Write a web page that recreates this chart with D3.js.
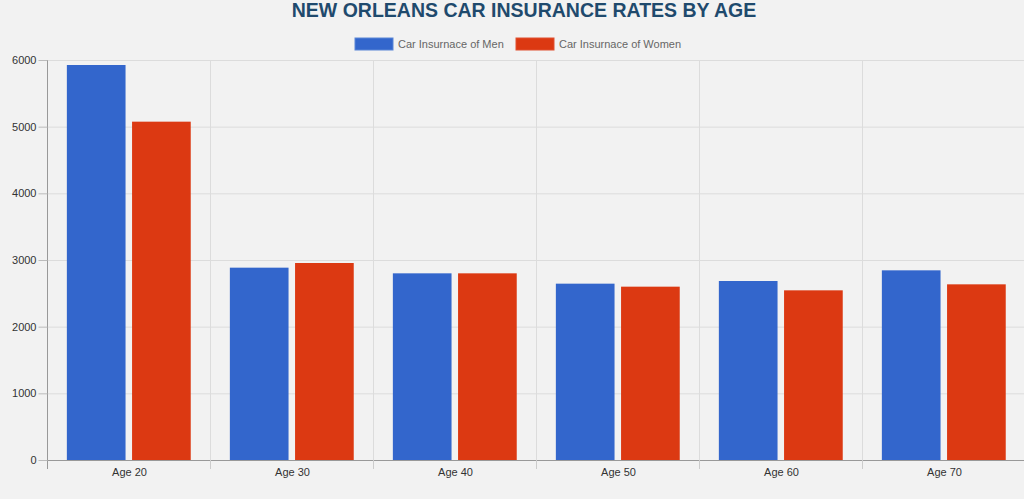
<!DOCTYPE html>
<html><head><meta charset="utf-8">
<script src="https://cdn.jsdelivr.net/npm/d3@7"></script>
<style>html,body{margin:0;padding:0;background:#f2f2f2;}svg{display:block;font-family:Arial,"Liberation Sans",sans-serif;}</style>
</head><body><svg id="c" width="1024" height="499"></svg>
<script>
const categories = ["Age 20","Age 30","Age 40","Age 50","Age 60","Age 70"];
const seriesNames = ["Car Insurnace of Men","Car Insurnace of Women"];
const men = [5925, 2885, 2800, 2645, 2685, 2845];
const women = [5075, 2955, 2800, 2600, 2545, 2635];
const yTicks = [0,1000,2000,3000,4000,5000,6000];
const colors = ["#3366cc","#dc3912"];

const svg = d3.select("#c");
svg.append("rect").attr("width",1024).attr("height",499).attr("fill","#f2f2f2");
const L=48, R=1026, T=60, B=460;
const x = d3.scaleBand().domain(categories).range([L,R]);
const y = d3.scaleLinear().domain([0,6000]).range([B,T]);
const inner = d3.scaleBand().domain([0,1]).range([0, x.bandwidth()*0.8]);

// grid
const g = svg.append("g");
g.selectAll(".hg").data(yTicks).join("line")
 .attr("x1",L).attr("x2",1024).attr("y1",d=>y(d)+0.5).attr("y2",d=>y(d)+0.5)
 .attr("stroke","#dcdcdc").attr("stroke-width",1);
const vlines = categories.map(c=>x(c)).concat([R]);
g.selectAll(".vg").data(vlines.slice(1)).join("line")
 .attr("x1",d=>Math.round(d)-0.5).attr("x2",d=>Math.round(d)-0.5).attr("y1",T).attr("y2",B)
 .attr("stroke","#dcdcdc");

// bars
const data = categories.map((c,i)=>({c, vals:[men[i],women[i]]}));
const cg = svg.append("g").selectAll("g").data(data).join("g")
 .attr("transform",d=>`translate(${x(d.c)+x.bandwidth()*0.1-0.7},0)`);
cg.selectAll("rect").data(d=>d.vals.map((v,k)=>({v,k}))).join("rect")
 .attr("x",d=>inner(d.k)+inner.bandwidth()*0.05)
 .attr("width",inner.bandwidth()*0.9)
 .attr("y",d=>y(d.v)).attr("height",d=>B-y(d.v))
 .attr("fill",d=>colors[d.k]);

// axes
const yAxis = svg.append("g").attr("transform",`translate(${L-0.5},0)`)
 .call(d3.axisLeft(y).tickValues(yTicks).tickSize(9).tickPadding(2).tickFormat(d3.format("d")));
yAxis.select(".domain").attr("stroke","#999").attr("d",`M0,${T}V${B+9}`);
yAxis.selectAll(".tick line").attr("stroke","#bbb");
yAxis.selectAll("text").attr("fill","#333").attr("font-size",11).attr("font-family","Arial,'Liberation Sans',sans-serif");

const xAxis = svg.append("g").attr("transform",`translate(0,${B+0.5})`)
 .call(d3.axisBottom(x).tickSize(0).tickPadding(8));
xAxis.select(".domain").attr("stroke","#999").attr("d",`M${L},0H1024`);
xAxis.selectAll("text").attr("fill","#333").attr("font-size",11).attr("font-family","Arial,'Liberation Sans',sans-serif");
svg.append("g").selectAll("line").data(vlines.slice(1)).join("line")
 .attr("x1",d=>Math.round(d)-0.5).attr("x2",d=>Math.round(d)-0.5).attr("y1",B).attr("y2",B+9).attr("stroke","#ccc");

// title
svg.append("text").attr("x",524).attr("y",17).attr("text-anchor","middle")
 .attr("font-size",19.5).attr("font-weight","bold").attr("fill","#1f4a6d")
 .attr("font-family","Arial,'Liberation Sans',sans-serif")
 .text("NEW ORLEANS CAR INSURANCE RATES BY AGE");

// legend
const legX=[355,516];
const lg = svg.append("g").selectAll("g").data(seriesNames).join("g")
 .attr("transform",(d,i)=>`translate(${legX[i]},38)`);
lg.append("rect").attr("width",38).attr("height",12).attr("fill",(d,i)=>colors[i])
 .attr("stroke",(d,i)=>i?"#e05030":"#5a86d6");
lg.append("text").attr("x",43).attr("y",10).attr("font-size",11).attr("fill","#666")
 .attr("font-family","Arial,'Liberation Sans',sans-serif").text(d=>d);
</script></body></html>
